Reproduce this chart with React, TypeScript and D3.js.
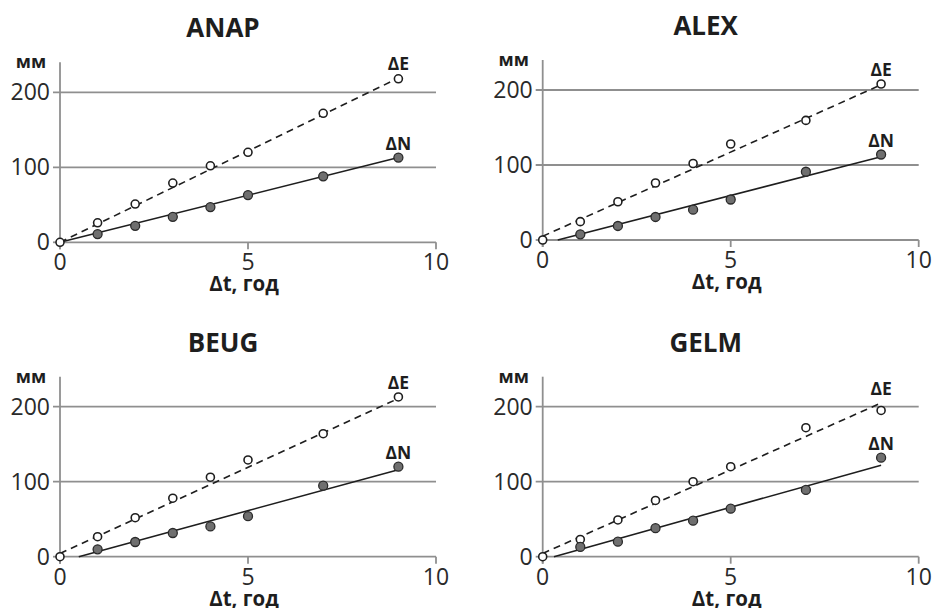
import * as d3 from "d3";

// observation epochs, years since start
const YEARS = [0, 1, 2, 3, 4, 5, 7, 9];
const X_TICKS = [0, 5, 10];
const Y_TICKS = [0, 100, 200];

// displacements, mm
const ANAP_E = [0, 26, 51, 79, 102, 120, 172, 218];
const ANAP_N = [0, 11, 22, 34, 47, 63, 88, 113];
const ALEX_E = [0, 24.5, 51, 76, 102, 128, 159.5, 208];
const ALEX_N = [0, 7.6, 18.7, 30.7, 40.5, 54, 91, 114];
const BEUG_E = [0, 26.7, 52, 78, 106, 129, 164, 213];
const BEUG_N = [0, 9.8, 19.6, 31.6, 40.4, 54, 94.7, 120];
const GELM_E = [0, 23, 49, 75, 100, 120, 172, 195];
const GELM_N = [0, 13, 20, 38, 48, 64, 89, 132];

// linear trend segments [t, mm]
const ANAP_FIT_E: [number, number][] = [[0, 0], [9, 219]];
const ANAP_FIT_N: [number, number][] = [[0, 0], [9, 113]];
const ALEX_FIT_E: [number, number][] = [[0, 5], [9, 207]];
const ALEX_FIT_N: [number, number][] = [[0.4, 0], [9, 111]];
const BEUG_FIT_E: [number, number][] = [[0, 4.4], [9, 211]];
const BEUG_FIT_N: [number, number][] = [[0.5, 0], [9, 116]];
const GELM_FIT_E: [number, number][] = [[0, 4.4], [9, 205]];
const GELM_FIT_N: [number, number][] = [[0.3, 0], [9, 122]];

const FONT = "'Open Sans', 'DejaVu Sans', sans-serif";
const GRID = "#8f8f8f";
const INK = "#1e1e1e";

interface PanelProps {
  title: string;
  e: number[];
  n: number[];
  fitE: [number, number][];
  fitN: [number, number][];
  x0: number;
  y0: number;
}

function Panel({ title, e, n, fitE, fitN, x0, y0 }: PanelProps) {
  const x = d3.scaleLinear().domain([0, 10]).range([x0, x0 + 376]);
  const y = d3.scaleLinear().domain([0, 240]).range([y0, y0 - 180]);
  const line = d3.line<[number, number]>().x((d) => x(d[0])).y((d) => y(d[1]));

  const lastI = YEARS.length - 1;
  const labelE = Math.min(y(e[lastI]), y(fitE[1][1])) - 8;
  const labelN = Math.min(y(n[lastI]), y(fitN[1][1])) - 8;

  return (
    <g>
      <text x={x0 + 163} y={y0 - 205} textAnchor="middle" fontFamily={FONT} fontWeight={700} fontSize={26} fill={INK}>
        {title}
      </text>
      <text x={x0 - 29} y={y0 - 174} textAnchor="middle" fontFamily={FONT} fontWeight={700} fontSize={18} fill={INK}>
        мм
      </text>

      {Y_TICKS.map((t) => (
        <g key={t}>
          <line x1={x0 - 7} x2={t === 0 ? x0 : x(10)} y1={y(t)} y2={y(t)} stroke={GRID} strokeWidth={1.8} />
          <text x={x0 - 10} y={y(t) + 8} textAnchor="end" fontFamily={FONT} fontSize={23} fill="#2a2a2a">
            {t}
          </text>
        </g>
      ))}

      <line x1={x0} x2={x(10)} y1={y0} y2={y0} stroke={GRID} strokeWidth={1.8} />
      <line x1={x0} x2={x0} y1={y(240)} y2={y0 + 7} stroke={GRID} strokeWidth={1.8} />
      {X_TICKS.map((t) => (
        <g key={t}>
          <line x1={x(t)} x2={x(t)} y1={y0} y2={y0 + 7} stroke={GRID} strokeWidth={1.8} />
          <text x={x(t)} y={y0 + 28} textAnchor="middle" fontFamily={FONT} fontSize={23} fill="#2a2a2a">
            {t}
          </text>
        </g>
      ))}
      <text x={x(5) - 4} y={y0 + 49} textAnchor="middle" fontFamily={FONT} fontWeight={700} fontSize={20.5} fill={INK}>
        Δt, год
      </text>

      <path d={line(fitE) ?? ""} fill="none" stroke={INK} strokeWidth={1.6} strokeDasharray="7,5" />
      <path d={line(fitN) ?? ""} fill="none" stroke={INK} strokeWidth={1.6} />

      {YEARS.map((t, i) => (
        <circle key={"e" + t} cx={x(t)} cy={y(e[i])} r={4} fill="#fff" stroke={INK} strokeWidth={1.6} />
      ))}
      {YEARS.map((t, i) =>
        i === 0 ? null : (
          <circle key={"n" + t} cx={x(t)} cy={y(n[i])} r={4.5} fill="#6f6f6f" stroke="#2a2a2a" strokeWidth={1.3} />
        )
      )}

      <text x={x(9)} y={labelE} textAnchor="middle" fontFamily={FONT} fontWeight={700} fontSize={17.5} fill={INK}>
        ΔE
      </text>
      <text x={x(9)} y={labelN} textAnchor="middle" fontFamily={FONT} fontWeight={700} fontSize={17.5} fill={INK}>
        ΔN
      </text>
    </g>
  );
}

export default function App() {
  return (
    <div style={{ position: "absolute", left: 0, top: 0 }}>
      <svg width={934} height={608} style={{ display: "block", background: "#fff" }}>
        <Panel title="ANAP" e={ANAP_E} n={ANAP_N} fitE={ANAP_FIT_E} fitN={ANAP_FIT_N} x0={60} y0={242.3} />
        <Panel title="ALEX" e={ALEX_E} n={ALEX_N} fitE={ALEX_FIT_E} fitN={ALEX_FIT_N} x0={542.7} y0={240} />
        <Panel title="BEUG" e={BEUG_E} n={BEUG_N} fitE={BEUG_FIT_E} fitN={BEUG_FIT_N} x0={60} y0={556.7} />
        <Panel title="GELM" e={GELM_E} n={GELM_N} fitE={GELM_FIT_E} fitN={GELM_FIT_N} x0={542.7} y0={556.7} />
      </svg>
    </div>
  );
}
